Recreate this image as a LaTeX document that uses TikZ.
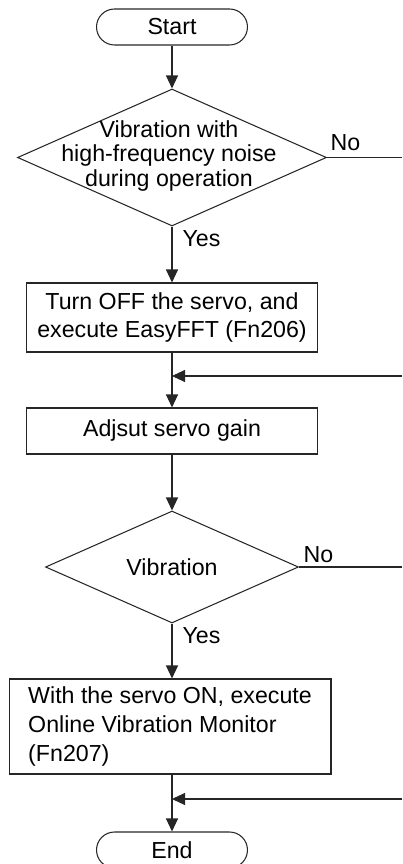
\documentclass[tikz,border=0pt]{standalone}
\usepackage{fontspec}
\setmainfont{Liberation Sans}
\usetikzlibrary{shapes.geometric,arrows.meta}

\begin{document}
\begin{tikzpicture}[
    x=0.02cm, y=-0.02cm,
    line width=0.6pt, color=black!85, text=black,
    font=\fontsize{13.2}{16.5}\selectfont,
    terminal/.style={rectangle,draw,rounded corners=3.6mm,minimum width=3.02cm,minimum height=7.2mm,inner sep=0pt},
    process/.style={rectangle,draw,minimum width=5.82cm,inner sep=0pt,align=center},
    decision/.style={diamond,draw,inner sep=0pt},
    dtext/.style={align=center,inner sep=0pt,font=\fontsize{13.2}{13.8}\selectfont},
    answer/.style={inner sep=0pt},
    flow/.style={-{Triangle[length=2.6mm,width=2.4mm]}}
]
\clip (0,0) rectangle (402,864);

\node[terminal] (start) at (172,27) {Start};
\node[decision,minimum width=6.18cm,minimum height=2.74cm] (dec1) at (172,157.5) {};
\node[dtext] (dec1txt) at (169,156) {Vibration with\\high-frequency noise\\during operation};
\node[process,minimum height=1.38cm] (fft) at (172,317.5) {Turn OFF the servo, and\\execute EasyFFT (Fn206)};
\node[process,minimum height=0.92cm] (gain) at (172,431) {Adjsut servo gain};
\node[decision,minimum width=5.06cm,minimum height=2.24cm] (dec2) at (172,567) {};
\node (dec2txt) at (dec2) {Vibration};
\node[process,align=left,minimum width=6.44cm,minimum height=1.9cm] (monitor) at (170,726.5) {With the servo ON, execute\\Online Vibration Monitor\\(Fn207)};
\node[terminal] (end) at (172,850) {End};

% branch labels
\node[answer,anchor=south west] (no1)  at ([shift={(3,-6)}]dec1.east)   {No};
\node[answer,anchor=north west] (yes1) at ([shift={(10,4)}]dec1.south)  {Yes};
\node[answer,anchor=south west] (no2)  at ([shift={(4,-4)}]dec2.east)   {No};
\node[answer,anchor=north west] (yes2) at ([shift={(10,3)}]dec2.south)  {Yes};

% free ends at the right edge
\coordinate (out1) at (402,157.5);
\coordinate (out2) at (402,567);
\coordinate (in1)  at (402,376);
\coordinate (in2)  at (402,799);

\draw[flow] (start) -- (dec1);
\draw[flow] (dec1) -- (fft);
\draw[flow] (fft) -- (gain);
\draw[flow] (gain) -- (dec2);
\draw[flow] (dec2.south) -- (dec2.south |- monitor.north);
\draw[flow] (dec2.south |- monitor.south) -- (end);

\draw (dec1.east) -- (out1);
\draw (dec2.east) -- (out2);
\draw[flow] (in1) -- (in1 -| fft.south);
\draw[flow] (in2) -- (in2 -| end.north);
\end{tikzpicture}
\end{document}
